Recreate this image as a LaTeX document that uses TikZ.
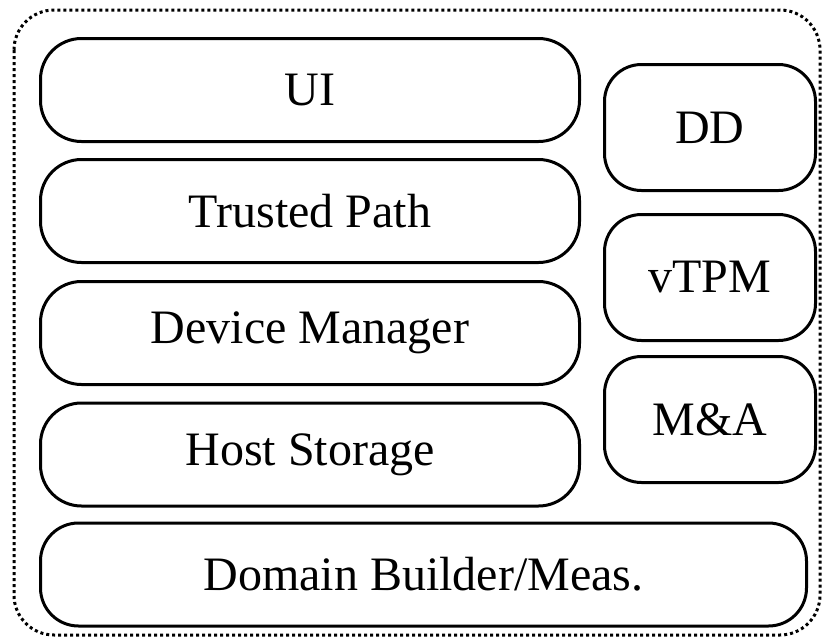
\documentclass[tikz,border=0pt]{standalone}
\usepackage{fontspec}
\setmainfont{Liberation Serif}
\begin{document}
\begin{tikzpicture}[x=1pt,y=-1pt,
  box/.style={draw, line width=3pt, rounded corners=41pt, inner sep=0pt,
    font=\fontsize{48}{56}\selectfont},
  leftbox/.style={box, minimum width=539pt, minimum height=103pt},
  rightbox/.style={box, minimum width=211pt, minimum height=126pt, rounded corners=37pt},
  frame/.style={line width=3pt, dash pattern=on 3pt off 3pt, rounded corners=40pt}
]
\useasboundingbox (0,0) rectangle (823,638);
\draw[frame] (14,10) rectangle (820,635);
\node[leftbox] (ui) at (310,90) {UI};
\node[leftbox] (tp) at (310,211) {Trusted Path};
\node[leftbox] (dm) at (310,333) {Device Manager};
\node[leftbox] (hs) at (310,454.5) {Host Storage};
\node[box, minimum width=766pt, minimum height=103pt, rounded corners=38pt] (db) at (423.5,574.5) {Domain Builder/Meas.};
\node[rightbox] (dd) at (710,127.5) {DD};
\node[rightbox] (vtpm) at (710,277.5) {vTPM};
\node[rightbox] (ma) at (710,419.5) {M\&A};
\end{tikzpicture}
\end{document}
